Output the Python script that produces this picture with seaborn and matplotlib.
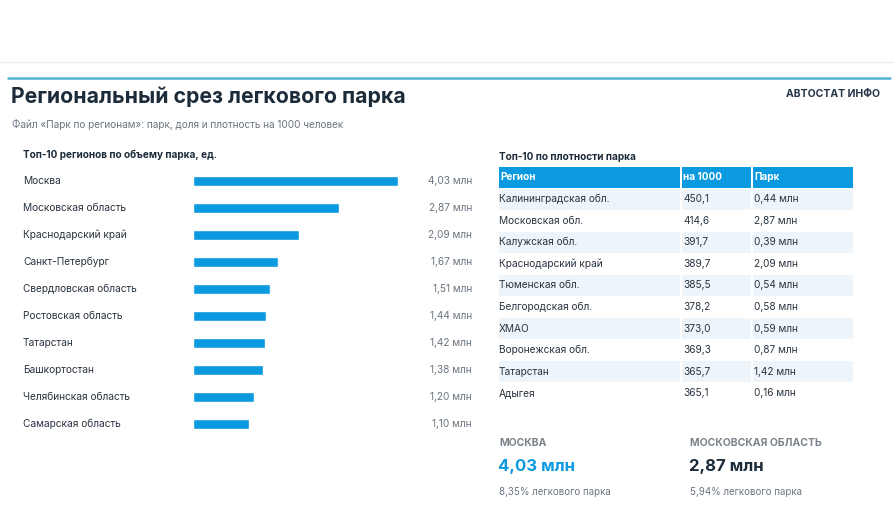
import numpy as np
import pandas as pd
import matplotlib
matplotlib.use("Agg")
import matplotlib.pyplot as plt
import seaborn as sns

# data
regions = ["Москва", "Московская область", "Краснодарский край", "Санкт-Петербург",
           "Свердловская область", "Ростовская область", "Татарстан", "Башкортостан",
           "Челябинская область", "Самарская область"]
park_mln = [4.03, 2.87, 2.09, 1.67, 1.51, 1.44, 1.42, 1.38, 1.20, 1.10]

dens_regions = ["Калининградская обл.", "Московская обл.", "Калужская обл.", "Краснодарский край",
                "Тюменская обл.", "Белгородская обл.", "ХМАО", "Воронежская обл.",
                "Татарстан", "Адыгея"]
dens_per1000 = [450.1, 414.6, 391.7, 389.7, 385.5, 378.2, 373.0, 369.3, 365.7, 365.1]
dens_park = [0.44, 2.87, 0.39, 2.09, 0.54, 0.58, 0.59, 0.87, 1.42, 0.16]

def ru(v, d):
    return f"{v:.{d}f}".replace(".", ",")

sns.set_theme(style="white")
plt.rcParams['font.family'] = ['Inter', 'DejaVu Sans']

W, H = 895, 505
fig = plt.figure(figsize=(W / 100, H / 100), dpi=100)
fig.patch.set_facecolor("white")

# overlay axes in pixel coords
ov = fig.add_axes([0, 0, 1, 1])
ov.set_xlim(0, W)
ov.set_ylim(H, 0)
ov.axis("off")

dark = "#1c2b3a"
grey = "#6b7580"
blue = "#0b9ae0"

ov.axhline(62, color="#eceff2", lw=1)
ov.plot([8, 890], [78, 78], color="#4fb3cf", lw=1.8)
ov.text(11, 97, "Региональный срез легкового парка", fontsize=15.3, fontweight="bold",
        color=dark, va="center")
ov.text(12, 124, "Файл «Парк по регионам»: парк, доля и плотность на 1000 человек",
        fontsize=7.2, color=grey, va="center")
ov.text(880, 94, "АВТОСТАТ ИНФО", fontsize=7.5, fontweight="bold", color="#243447",
        va="center", ha="right")
ov.text(23, 155, "Топ-10 регионов по объему парка, ед.", fontsize=7.2, fontweight="bold",
        color=dark, va="center")

# bar chart
df = pd.DataFrame({"region": regions, "park": park_mln})
top, bot = 181 - 13.5, 424 + 13.5
ax = fig.add_axes([193 / W, 1 - bot / H, (398 - 193) / W, (bot - top) / H])
sns.barplot(data=df, x="park", y="region", color=blue, saturation=1, width=0.36, ax=ax)
ax.set_xlim(0, 4.03)
ax.axis("off")
for i, (r, v) in enumerate(zip(regions, park_mln)):
    y = 181 + 27 * i
    ov.text(23, y, r, fontsize=7.3, color="#2a3440", va="center")
    ov.text(472, y, ru(v, 2) + " млн", fontsize=7.3, color=grey, va="center", ha="right")

# density table
ov.text(499, 157, "Топ-10 по плотности парка", fontsize=7.2, fontweight="bold",
        color=dark, va="center")
cols = [(499, 680), (682, 751), (753, 853)]
for (x0, x1), h in zip(cols, ["Регион", "на 1000", "Парк"]):
    ov.add_patch(plt.Rectangle((x0, 167), x1 - x0, 21, color=blue, lw=0))
    ov.text(x0 + 1, 177.5, h, fontsize=7.2, fontweight="bold", color="white", va="center")
for i in range(10):
    y = 199 + 21.6 * i
    if i % 2 == 0:
        for x0, x1 in cols:
            ov.add_patch(plt.Rectangle((x0, y - 10.5), x1 - x0, 21, color="#edf5fa", lw=0))
    ov.text(499, y, dens_regions[i], fontsize=7.3, color="#2a3440", va="center")
    ov.text(683, y, ru(dens_per1000[i], 1), fontsize=7.3, color="#2a3440", va="center")
    ov.text(754, y, ru(dens_park[i], 2) + " млн", fontsize=7.3, color="#2a3440", va="center")

# key figures
ov.text(499, 443, "МОСКВА", fontsize=7.5, fontweight="bold", color="#7a838c", va="center")
ov.text(498, 467, "4,03 млн", fontsize=12, fontweight="bold", color=blue, va="center")
ov.text(499, 492, "8,35% легкового парка", fontsize=7, color=grey, va="center")
ov.text(690, 443, "МОСКОВСКАЯ ОБЛАСТЬ", fontsize=7.5, fontweight="bold", color="#7a838c", va="center")
ov.text(689, 467, "2,87 млн", fontsize=12, fontweight="bold", color=dark, va="center")
ov.text(690, 492, "5,94% легкового парка", fontsize=7, color=grey, va="center")

fig.savefig("out.png", dpi=100)
